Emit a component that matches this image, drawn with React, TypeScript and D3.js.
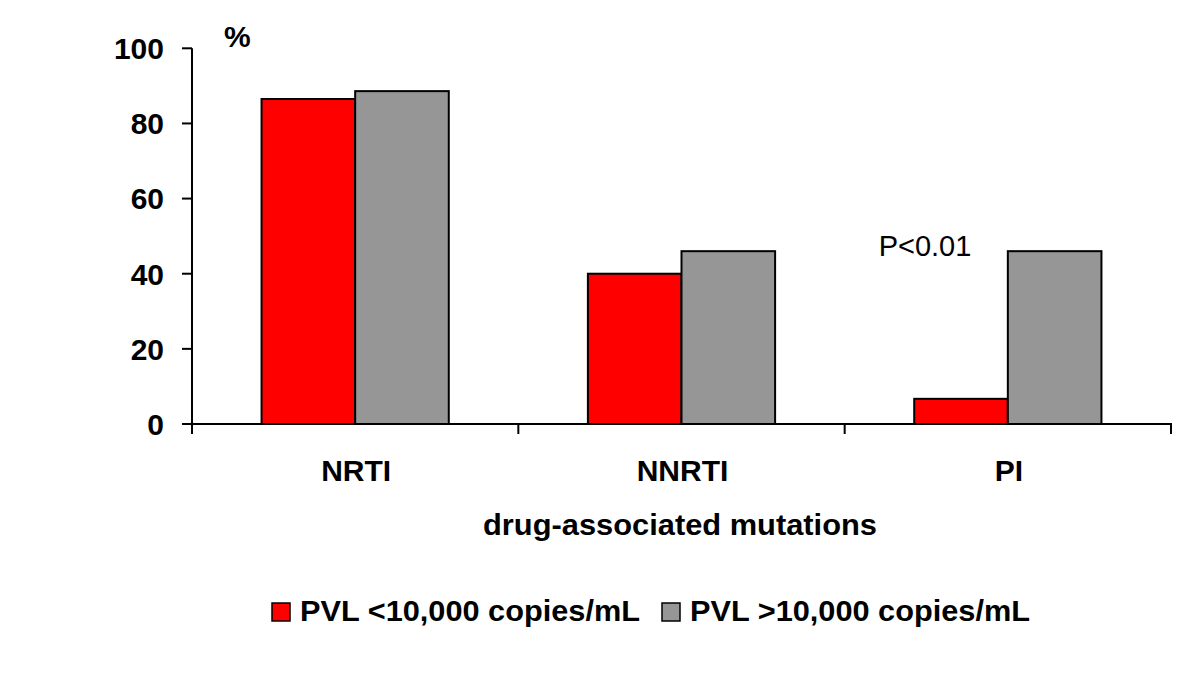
import React from "react";
import * as d3 from "d3";

const categories = ["NRTI", "NNRTI", "PI"];
const seriesNames = ["PVL <10,000 copies/mL", "PVL >10,000 copies/mL"];
const lowPVL = [86.5, 40.0, 6.7];
const highPVL = [88.6, 46.0, 46.0];
const seriesColors = ["#FF0000", "#969696"];
const yTicks = [0, 20, 40, 60, 80, 100];

const W = 1200;
const H = 683;
const FONT = "'Liberation Sans', Arial, Helvetica, sans-serif";

export default function App() {
  const x0 = d3.scaleBand<string>().domain(categories).range([192, 1171]).paddingInner(0).paddingOuter(0);
  const x1 = d3.scaleBand<string>().domain(seriesNames).range([0, x0.bandwidth()]).paddingInner(0).paddingOuter(0.743);
  const y = d3.scaleLinear().domain([0, 100]).range([424, 48.3]);

  const values = [lowPVL, highPVL];
  const boundaries = [...categories.map((c) => x0(c) as number), (x0(categories[categories.length - 1]) as number) + x0.bandwidth()];

  const legendItems = [
    { name: seriesNames[0], color: seriesColors[0], sx: 272, tx: 300 },
    { name: seriesNames[1], color: seriesColors[1], sx: 662, tx: 690 },
  ];

  return (
    <svg width={W} height={H} style={{ display: "block", position: "absolute", left: 0, top: 0, background: "#fff" }} fontFamily={FONT}>
      <rect x={0} y={0} width={W} height={H} fill="#fff" />
      {categories.map((c, ci) =>
        seriesNames.map((s, si) => {
          const v = values[si][ci];
          const bx = (x0(c) as number) + (x1(s) as number);
          return (
            <rect
              key={c + s}
              x={bx}
              y={y(v)}
              width={x1.bandwidth()}
              height={y(0) - y(v)}
              fill={seriesColors[si]}
              stroke="#000"
              strokeWidth={2}
            />
          );
        })
      )}
      <line x1={192} x2={192} y1={y(100)} y2={y(0)} stroke="#000" strokeWidth={2} />
      {yTicks.map((t) => (
        <g key={t}>
          <line x1={182} x2={192} y1={y(t)} y2={y(t)} stroke="#000" strokeWidth={2} />
          <text x={164} y={y(t)} dy="0.36em" textAnchor="end" fontSize={30} fontWeight="bold" fill="#000">
            {t}
          </text>
        </g>
      ))}
      <text x={224} y={47} fontSize={30} fontWeight="bold" fill="#000">%</text>
      <line x1={191} x2={boundaries[boundaries.length - 1] + 1} y1={y(0)} y2={y(0)} stroke="#000" strokeWidth={2} />
      {boundaries.map((b, i) => (
        <line key={i} x1={b} x2={b} y1={y(0)} y2={y(0) + 10} stroke="#000" strokeWidth={2} />
      ))}
      {categories.map((c) => (
        <text key={c} x={(x0(c) as number) + x0.bandwidth() / 2 + 1} y={481} textAnchor="middle" fontSize={30} fontWeight="bold" fill="#000">
          {c}
        </text>
      ))}
      <text x={483} y={535} fontSize={30} fontWeight="bold" fill="#000" textLength={394} lengthAdjust="spacingAndGlyphs">
        drug-associated mutations
      </text>
      <text x={(x0("PI") as number) + 34} y={256} fontSize={29} fill="#000">
        P&lt;0.01
      </text>
      {legendItems.map((l) => (
        <g key={l.name}>
          <rect x={l.sx} y={603} width={18} height={18} fill={l.color} stroke="#000" strokeWidth={1.5} />
          <text x={l.tx} y={621} fontSize={30} fontWeight="bold" fill="#000" textLength={340} lengthAdjust="spacingAndGlyphs">
            {l.name}
          </text>
        </g>
      ))}
    </svg>
  );
}
